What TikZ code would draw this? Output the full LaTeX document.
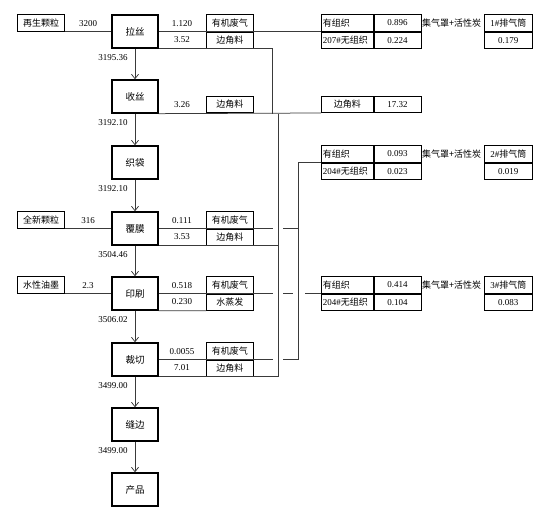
\documentclass[tikz,border=0pt]{standalone}
\usepackage{fontspec}
\setmainfont{Liberation Serif}
\newfontfamily\cjk{Noto Sans CJK SC}
\usetikzlibrary{arrows.meta, positioning}
\definecolor{linegray}{HTML}{3A3A3A}

\tikzset{
  proc/.style={draw, line width=1.3pt, minimum width=46pt, minimum height=33pt, inner sep=0pt, font=\cjk\fontsize{9.5}{10}\selectfont},
  tag/.style={draw, line width=0.7pt, minimum width=47pt, minimum height=16.5pt, inner sep=0pt, font=\cjk\fontsize{9}{10}\selectfont},
  cellA/.style={tag, minimum width=52pt, text width=49pt, inner xsep=1.5pt, align=left},
  cellB/.style={tag, font=\fontsize{9}{10}\selectfont},
  num/.style={inner sep=1pt, font=\fontsize{9}{10}\selectfont},
  zh/.style={inner sep=1pt, font=\cjk\fontsize{9}{10}\selectfont},
  link/.style={draw=linegray, line width=0.75pt},
  flow/.style={link, -{Straight Barb[length=4.5pt,width=7pt]}},
  qty/.style={num, anchor=east, xshift=-6pt}
}

\begin{document}
\begin{tikzpicture}[x=1pt, y=-1pt]
  \useasboundingbox (0,0) rectangle (554,514);

  % main process column
  \node[proc] (lasi)     at (135,31.5)  {拉丝};
  \node[proc] (shousi)   at (135,96.5)  {收丝};
  \node[proc] (zhidai)   at (135,162.5) {织袋};
  \node[proc] (fumo)     at (135,228.5) {覆膜};
  \node[proc] (yinshua)  at (135,293.5) {印刷};
  \node[proc] (caiqie)   at (135,359.5) {裁切};
  \node[proc] (fengbian) at (135,424.5) {缝边};
  \node[proc] (chanpin)  at (135,489.5) {产品};

  \draw[flow] (lasi) -- node[qty, pos=0.28] {3195.36} (shousi);
  \draw[flow] (shousi) -- node[qty, pos=0.28] {3192.10} (zhidai);
  \draw[flow] (zhidai) -- node[qty, pos=0.28] {3192.10} (fumo);
  \draw[flow] (fumo) -- node[qty, pos=0.28] {3504.46} (yinshua);
  \draw[flow] (yinshua) -- node[qty, pos=0.28] {3506.02} (caiqie);
  \draw[flow] (caiqie) -- node[qty, pos=0.28] {3499.00} (fengbian);
  \draw[flow] (fengbian) -- node[qty, pos=0.28] {3499.00} (chanpin);

  % raw material inputs
  \node[tag, anchor=south east] (zaisheng) at (65,31.5)  {再生颗粒};
  \node[tag, anchor=south east] (quanxin)  at (65,228.5) {全新颗粒};
  \node[tag, anchor=south east] (youmo)    at (65,293.5) {水性油墨};
  \draw[link] (zaisheng.south east) -- (zaisheng.south east -| lasi.west);
  \draw[link] (quanxin.south east) -- (quanxin.south east -| fumo.west);
  \draw[link] (youmo.south east) -- (youmo.south east -| yinshua.west);
  \node[num] at (88,23.25)  {3200};
  \node[num] at (88,220.25) {316};
  \node[num] at (88,285.25) {2.3};

  % outputs of each step
  \node[tag, anchor=south west] (gas1)   at (206,31.5) {有机废气};
  \node[tag, below=0pt of gas1] (scrap1) {边角料};
  \node[tag, anchor=south west] (scrap2) at (206,113) {边角料};
  \node[tag, anchor=south west] (gas3)   at (206,228.5) {有机废气};
  \node[tag, below=0pt of gas3] (scrap3) {边角料};
  \node[tag, anchor=south west] (gas4)   at (206,293.5) {有机废气};
  \node[tag, below=0pt of gas4] (steam)  {水蒸发};
  \node[tag, anchor=south west] (gas5)   at (206,359.5) {有机废气};
  \node[tag, below=0pt of gas5] (scrap5) {边角料};

  \node[num] at (182,23.25)  {1.120};
  \node[num] at (182,39.75)  {3.52};
  \node[num] at (182,104.75) {3.26};
  \node[num] at (182,220.25) {0.111};
  \node[num] at (182,236.75) {3.53};
  \node[num] at (182,285.25) {0.518};
  \node[num] at (182,301.75) {0.230};
  \node[num] at (182,351.25) {0.0055};
  \node[num] at (182,367.75) {7.01};

  % emission tables
  \node[cellA, anchor=south west] (t1a) at (321,31.5) {有组织};
  \node[cellA, below=0pt of t1a] (t1b) {{\rmfamily 207\#}无组织};
  \node[cellB, right=0pt of t1a] (t1c) {0.896};
  \node[cellB, right=0pt of t1b] (t1d) {0.224};
  \node[zh, anchor=west] (t1e) at (421,23.25) {集气罩+活性炭};
  \node[cellB, minimum width=48pt, anchor=south west] (t1f) at (484,31.5) {1\#{\cjk 排气筒}};
  \node[cellB, minimum width=48pt, below=0pt of t1f] (t1g) {0.179};

  \node[cellA, anchor=south west, align=center] (t4a) at (321,113) {边角料};
  \node[cellB, right=0pt of t4a] (t4b) {17.32};

  \node[cellA, anchor=south west] (t2a) at (321,162.5) {有组织};
  \node[cellA, below=0pt of t2a] (t2b) {{\rmfamily 204\#}无组织};
  \node[cellB, right=0pt of t2a] (t2c) {0.093};
  \node[cellB, right=0pt of t2b] (t2d) {0.023};
  \node[zh, anchor=west] (t2e) at (421,154.25) {集气罩+活性炭};
  \node[cellB, minimum width=48pt, anchor=south west] (t2f) at (484,162.5) {2\#{\cjk 排气筒}};
  \node[cellB, minimum width=48pt, below=0pt of t2f] (t2g) {0.019};

  \node[cellA, anchor=south west] (t3a) at (321,293.5) {有组织};
  \node[cellA, below=0pt of t3a] (t3b) {{\rmfamily 204\#}无组织};
  \node[cellB, right=0pt of t3a] (t3c) {0.414};
  \node[cellB, right=0pt of t3b] (t3d) {0.104};
  \node[zh, anchor=west] (t3e) at (421,285.25) {集气罩+活性炭};
  \node[cellB, minimum width=48pt, anchor=south west] (t3f) at (484,293.5) {3\#{\cjk 排气筒}};
  \node[cellB, minimum width=48pt, below=0pt of t3f] (t3g) {0.083};

  % collecting lines
  \coordinate (bendA) at (272,0);
  \coordinate (scrapX) at (278,0);
  \coordinate (gasX) at (298,0);

  \draw[link] (lasi.east) -- (t1a.south west);
  \draw[link] (lasi.south east) -- (lasi.south east -| bendA) -- (bendA |- shousi.south);
  \draw[link] (shousi.south east) -- (t4a.south west);
  \draw[link] (scrapX |- shousi.south) -- (scrapX |- caiqie.south);
  \draw[link] (fumo.south east) -- (fumo.south east -| scrapX);
  \draw[link] (yinshua.south east) -- (steam.south west);
  \draw[link] (caiqie.south east) -- (caiqie.south east -| scrapX);

  \draw[link] (fumo.east) -- ([xshift=-5pt]fumo.east -| scrapX);
  \draw[link] ([xshift=5pt]fumo.east -| scrapX) -- (fumo.east -| gasX);
  \draw[link] (t2a.south west) -- (gasX |- t2a.south) -- (gasX |- caiqie.east) -- ([xshift=5pt]caiqie.east -| scrapX);
  \draw[link] (caiqie.east) -- ([xshift=-5pt]caiqie.east -| scrapX);
  \draw[link] (yinshua.east) -- ([xshift=-5pt]yinshua.east -| scrapX);
  \draw[link] ([xshift=5pt]yinshua.east -| scrapX) -- ([xshift=-5pt]yinshua.east -| gasX);
  \draw[link] ([xshift=7pt]yinshua.east -| gasX) -- (t3a.south west);
\end{tikzpicture}
\end{document}
